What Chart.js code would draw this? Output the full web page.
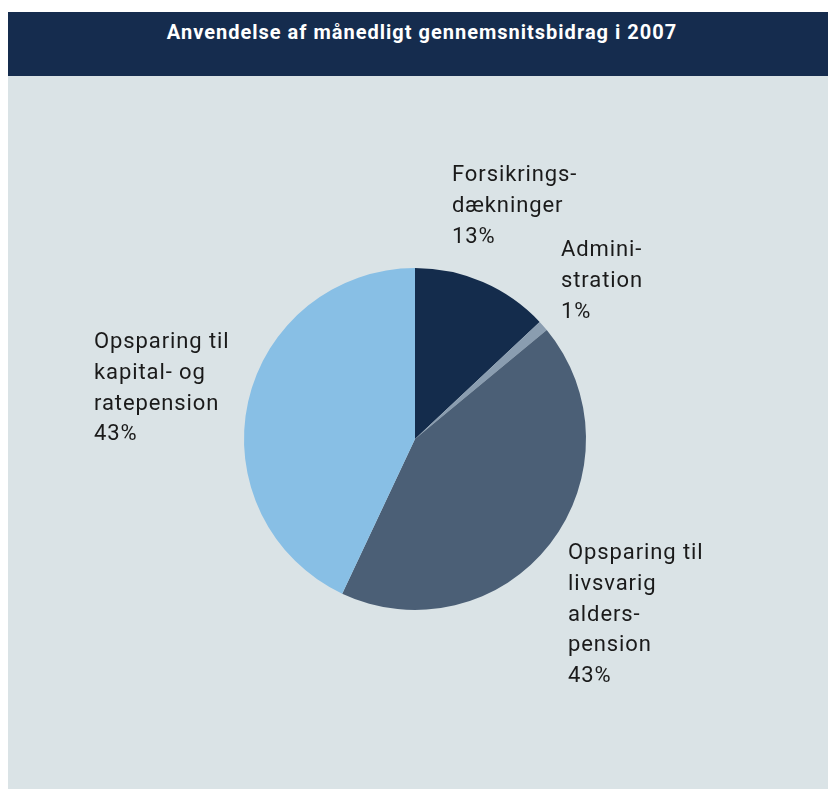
<!DOCTYPE html>
<html>
<head>
<meta charset="utf-8">
<script src="https://cdn.jsdelivr.net/npm/chart.js@4.4.0/dist/chart.umd.min.js"></script>
<style>
  html, body { margin: 0; padding: 0; background: #ffffff; width: 828px; height: 789px; overflow: hidden; }
  #panel { position: absolute; left: 8px; top: 12px; width: 820px; height: 777px; background: #dae3e6; }
  #header { position: absolute; left: 0; top: 0; width: 820px; height: 64px; background: #152c4e;
            color: #ffffff; font-family: Roboto, "DejaVu Sans", sans-serif; font-weight: bold; font-size: 20px;
            text-align: center; line-height: 40px; letter-spacing: 1px; }
  #header span { position: relative; left: 4px; top: 0px; }
  #wrap { position: absolute; left: 0; top: 64px; width: 820px; height: 713px; }
</style>
</head>
<body>
<div id="panel">
  <div id="header"><span>Anvendelse af månedligt gennemsnitsbidrag i 2007</span></div>
  <div id="wrap"><canvas id="c" width="820" height="713"></canvas></div>
</div>
<script>
const categories = [
  "Forsikringsdækninger",
  "Administration",
  "Opsparing til livsvarig alderspension",
  "Opsparing til kapital- og ratepension"
];
const values = [13, 1, 43, 43];
const labelLines = [
  ["Forsikrings-", "dækninger", "13%"],
  ["Admini-", "stration", "1%"],
  ["Opsparing til", "livsvarig", "alders-", "pension", "43%"],
  ["Opsparing til", "kapital- og", "ratepension", "43%"]
];
const sliceColors = ["#142c4c", "#8a9db0", "#4b5f76", "#88bfe5"];

// label anchor positions (page coordinates of first baseline)
const labelPos = [[452, 181], [561, 256], [568, 559], [94, 348]];

const labelPlugin = {
  id: 'sliceLabels',
  afterDraw(chart) {
    const ctx = chart.ctx;
    ctx.save();
    ctx.fillStyle = "#1a1a1a";
    ctx.font = "22px Roboto, 'DejaVu Sans', sans-serif";
    try { ctx.letterSpacing = "0.9px"; } catch (e) {}
    ctx.textAlign = "left";
    ctx.textBaseline = "alphabetic";
    labelLines.forEach((lines, i) => {
      const x = labelPos[i][0] - 8;
      const y0 = labelPos[i][1] - 76;
      lines.forEach((t, j) => ctx.fillText(t, x, y0 + j * 30.8));
    });
    ctx.restore();
  }
};

new Chart(document.getElementById('c'), {
  type: 'pie',
  data: {
    labels: categories,
    datasets: [{
      data: values,
      backgroundColor: sliceColors,
      borderWidth: 0,
      hoverOffset: 0
    }]
  },
  options: {
    responsive: false,
    animation: false,
    layout: { padding: { left: 236, right: 242, top: 192, bottom: 179 } },
    plugins: {
      legend: { display: false },
      tooltip: { enabled: false },
      title: { display: false }
    }
  },
  plugins: [labelPlugin]
});
</script>
</body>
</html>
